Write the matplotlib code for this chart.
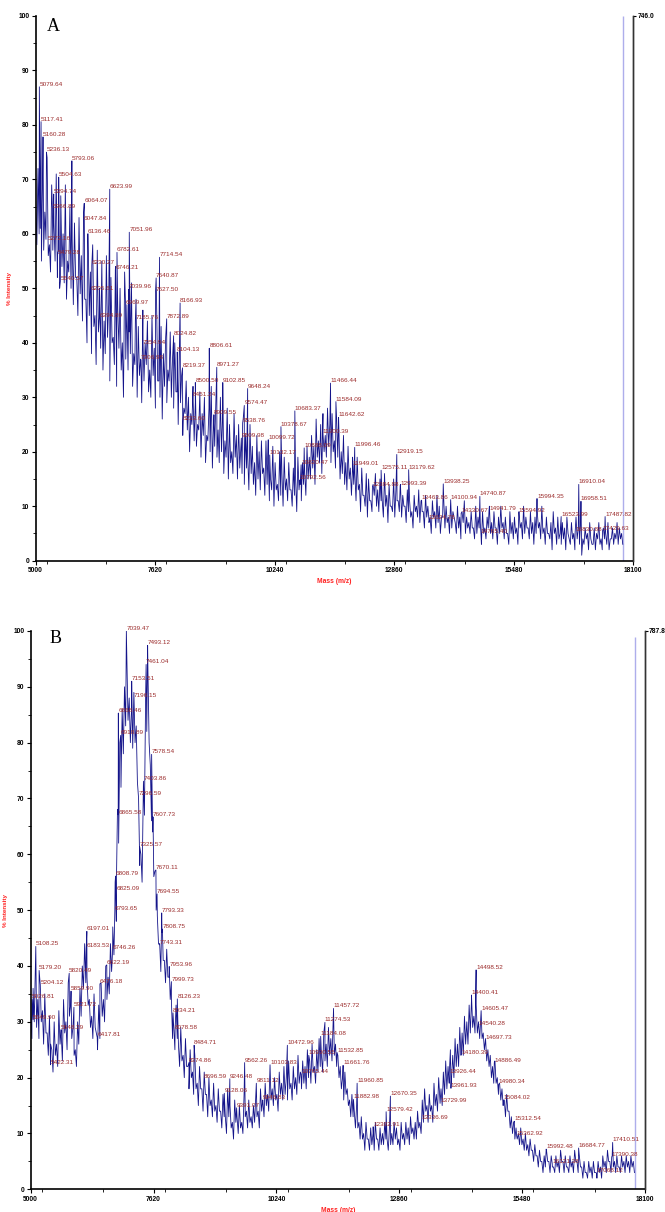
import matplotlib
matplotlib.use('Agg')

import matplotlib.pyplot as plt
from matplotlib.ticker import MultipleLocator
import numpy as np

plt.rcParams['font.family'] = ['Liberation Sans', 'DejaVu Sans']

# spectra read every 50 Da from 5000 (tops), troughs read in between (+25 Da)
START = 5000
STEP = 50

a_trace = [
    66, 72, 61, 70, 64, 74, 58, 69, 62, 71,
    57, 67, 60, 69, 55, 65, 59, 62, 52, 63,
    56, 64, 48, 60, 53, 58, 45, 57, 50, 55,
    44, 56, 47, 52, 41, 54, 46, 50, 40, 53,
    47, 42, 51, 38, 48, 43, 37, 46, 40, 44,
    35, 45, 39, 48, 33, 43, 38, 41, 35, 42,
    37, 40, 31, 38, 34, 28, 33, 30, 27, 32,
    29, 25, 31, 27, 30, 23, 28, 32, 25, 29,
    24, 30, 27, 22, 28, 25, 20, 27, 23, 25,
    21, 26, 23, 19, 25, 21, 18, 23, 20, 22,
    17, 22, 19, 15, 21, 18, 14, 20, 16, 19,
    15, 18, 13, 17, 15, 19, 14, 18, 16, 21,
    19, 23, 21, 26, 22, 25, 27, 23, 28, 25,
    27, 22, 26, 24, 20, 23, 18, 21, 17, 19,
    16, 19, 14, 17, 12, 16, 15, 11, 14, 16,
    13, 15, 11, 16, 12, 14, 10, 15, 13, 11,
    14, 12, 10, 13, 11, 9, 12, 10, 13, 11,
    9, 12, 10, 8, 11, 9, 12, 10, 8, 11,
    10, 8, 11, 9, 7, 10, 8, 9, 11, 8,
    7, 9, 6, 10, 8, 7, 9, 6, 8, 10,
    7, 9, 6, 8, 10, 7, 8, 5, 9, 7,
    8, 6, 9, 7, 10, 8, 6, 9, 7, 8,
    9, 7, 10, 6, 8, 5, 7, 9, 6, 8,
    5, 7, 6, 8, 4, 7, 5, 8, 6, 7,
    4, 6, 5, 7, 3, 6, 5, 7, 4, 6,
    5, 7, 4, 6, 5, 7, 6, 5,
]
a_lows = [
    58, 60, 55, 57, 59, 56, 53, 57, 55, 52,
    50, 54, 51, 48, 53, 50, 47, 52, 45, 49,
    44, 48, 40, 45, 38, 43, 36, 42, 39, 35,
    38, 41, 33, 40, 36, 32, 39, 35, 30, 37,
    35, 38, 32, 36, 30, 34, 29, 33, 36, 31,
    30, 34, 28, 33, 30, 26, 32, 29, 33, 30,
    28, 31, 25, 29, 23, 27, 24, 20, 25, 22,
    21, 24, 19, 23, 18, 22, 20, 17, 21, 19,
    18, 20, 16, 19, 15, 18, 16, 19, 15, 17,
    16, 14, 17, 13, 16, 14, 12, 15, 13, 16,
    12, 14, 11, 13, 10, 13, 11, 12, 10, 13,
    11, 13, 10, 12, 9, 13, 11, 14, 12, 15,
    15, 17, 14, 19, 18, 16, 20, 19, 21, 18,
    20, 17, 19, 15, 16, 14, 13, 15, 12, 14,
    11, 13, 9, 12, 10, 8, 11, 9, 12, 10,
    9, 11, 8, 10, 7, 10, 9, 8, 11, 9,
    8, 10, 7, 9, 8, 6, 9, 8, 7, 9,
    6, 8, 7, 5, 8, 6, 7, 5, 8, 6,
    7, 5, 6, 8, 5, 6, 4, 7, 5, 6,
    5, 6, 4, 5, 6, 3, 5, 4, 6, 5,
    4, 6, 3, 5, 6, 4, 5, 3, 5, 4,
    5, 3, 6, 4, 5, 6, 4, 5, 3, 5,
    6, 4, 5, 3, 5, 4, 2, 5, 3, 4,
    3, 4, 2, 5, 3, 4, 2, 4, 3, 1,
    3, 4, 2, 4, 3, 2, 4, 3, 2, 4,
    3, 2, 4, 3, 4, 3, 4, 3,
]

a_peak_mass = [
    5079.64, 5117.41, 5160.28, 5236.13, 5793.06, 5504.63, 5394.74, 6623.99,
    6064.07, 5366.89, 6047.84, 7051.96, 6136.46, 5272.16, 6782.61, 5479.28,
    7714.54, 6230.27, 6746.21, 7640.87, 5540.57, 7039.96, 7627.50, 6205.61,
    8166.93, 6969.97, 6394.89, 7185.76, 7872.89, 8024.82, 7354.94, 8104.13,
    8806.61, 7306.98, 8219.37, 8971.27, 8500.50, 9102.85, 9648.24, 8451.24,
    9574.47, 10683.37, 8909.55, 8233.60, 9538.76, 10378.67, 9509.98, 10099.72,
    10888.09, 10132.17, 10820.47, 10792.56, 11466.44, 11584.09, 11642.62,
    11300.39, 11996.46, 12919.15, 11949.01, 12575.11, 13179.62, 12384.88,
    12993.39, 13938.25, 13463.86, 14100.94, 14740.87, 15994.35, 16910.04,
    16958.51, 14330.67, 14941.79, 15594.92, 16523.99, 17487.82, 13624.78,
    14765.40, 16830.88, 17429.63,
]
a_peak_int = [
    87.0, 80.6, 77.8, 75.0, 73.4, 70.4, 67.3, 68.2,
    65.6, 64.6, 62.4, 60.3, 60.0, 58.7, 56.6, 56.2,
    55.7, 54.2, 53.4, 51.9, 51.3, 49.8, 49.3, 49.5,
    47.3, 47.0, 44.6, 44.2, 44.4, 41.3, 39.6, 38.3,
    39.0, 36.8, 35.4, 35.5, 32.7, 32.7, 31.6, 30.0,
    28.5, 27.5, 26.8, 25.6, 25.3, 24.6, 22.5, 22.2,
    20.7, 19.4, 17.6, 14.8, 32.6, 29.2, 26.3,
    23.3, 20.8, 19.5, 17.3, 16.6, 16.7, 13.6,
    13.8, 14.1, 11.1, 11.2, 11.8, 11.4, 14.0,
    10.9, 8.7, 9.2, 8.8, 8.1, 8.1, 7.5,
    4.9, 5.2, 5.4,
]
a_spike_mass = [17880]
a_spike_int = [100]
a_abs_max = '746.0'

b_trace = [
    31, 36, 40, 34, 37, 32, 35, 28, 31, 25,
    30, 26, 32, 28, 34, 30, 37, 33, 29, 25,
    30, 36, 40, 44, 38, 34, 31, 35, 28, 33,
    37, 34, 40, 38, 44, 47, 55, 68, 80, 86,
    90, 95, 88, 86, 89, 83, 70, 60, 72, 88,
    93, 76, 64, 57, 49, 44, 46, 41, 43, 38,
    34, 29, 33, 26, 29, 24, 27, 22, 25, 21,
    24, 19, 22, 18, 21, 17, 20, 16, 19, 15,
    18, 14, 17, 13, 18, 15, 12, 16, 13, 15,
    12, 17, 14, 16, 13, 15, 17, 14, 18, 16,
    19, 17, 21, 18, 20, 17, 21, 19, 22, 20,
    23, 19, 22, 20, 24, 21, 23, 22, 25, 23,
    26, 22, 25, 27, 24, 28, 26, 29, 27, 30,
    26, 24, 22, 20, 21, 18, 16, 17, 14, 15,
    12, 13, 10, 12, 9, 11, 10, 12, 9, 11,
    10, 12, 9, 11, 10, 12, 11, 9, 12, 10,
    12, 11, 13, 11, 12, 14, 12, 16, 18, 15,
    17, 15, 19, 17, 20, 18, 21, 23, 22, 25,
    24, 27, 26, 29, 28, 31, 30, 33, 34, 31,
    33, 30, 31, 28, 27, 25, 24, 22, 23, 20,
    19, 18, 16, 17, 14, 13, 12, 11, 10, 11,
    9, 10, 8, 9, 7, 8, 6, 7, 5, 6,
    7, 5, 6, 4, 6, 5, 7, 5, 6, 4,
    6, 5, 7, 5, 6, 4, 5, 3, 5, 4,
    5, 3, 5, 4, 6, 5, 7, 5, 6, 5,
    6, 4, 6, 5, 6, 5, 6, 5,
]
b_lows = [
    27, 30, 29, 27, 30, 26, 28, 24, 26, 21,
    24, 22, 26, 23, 28, 25, 31, 27, 24, 22,
    26, 31, 36, 37, 33, 29, 27, 29, 25, 27,
    31, 30, 34, 35, 39, 42, 48, 62, 72, 78,
    83, 84, 80, 79, 80, 73, 58, 55, 67, 82,
    80, 66, 56, 50, 44, 39, 41, 37, 38, 34,
    27, 25, 27, 22, 23, 20, 22, 18, 20, 17,
    18, 15, 18, 14, 17, 13, 15, 13, 14, 12,
    14, 11, 13, 10, 13, 11, 9, 12, 10, 11,
    10, 13, 11, 12, 11, 12, 13, 11, 14, 13,
    15, 14, 16, 15, 16, 14, 17, 16, 17, 16,
    18, 16, 18, 17, 19, 18, 19, 18, 20, 19,
    21, 19, 21, 22, 21, 23, 22, 24, 23, 24,
    22, 20, 18, 16, 17, 15, 13, 13, 11, 11,
    9, 9, 7, 9, 7, 8, 7, 9, 7, 8,
    8, 9, 7, 8, 8, 9, 8, 7, 9, 8,
    9, 8, 10, 9, 9, 11, 10, 12, 14, 12,
    14, 12, 15, 14, 16, 15, 17, 18, 19, 20,
    20, 22, 22, 24, 24, 26, 26, 28, 29, 28,
    28, 27, 27, 25, 23, 22, 20, 19, 19, 17,
    16, 15, 13, 14, 11, 10, 9, 9, 8, 8,
    7, 7, 6, 7, 5, 6, 4, 5, 3, 4,
    5, 3, 4, 3, 4, 3, 5, 3, 4, 3,
    4, 3, 5, 3, 4, 2, 3, 2, 3, 2,
    3, 2, 3, 2, 4, 3, 5, 3, 4, 3,
    4, 3, 4, 3, 4, 3, 4, 3,
]

b_peak_mass = [
    7039.47, 7493.12, 7461.04, 7153.51, 7196.15, 6868.46, 6918.89, 7578.54,
    7403.86, 7296.59, 6865.58, 7607.73, 7325.57, 6808.79, 7670.11, 6825.09,
    7694.55, 6793.65, 7793.33, 7808.75, 6197.01, 7743.31, 5108.25, 6183.53,
    6746.26, 6622.19, 7953.96, 5179.20, 5820.49, 7999.73, 5204.12, 6476.18,
    5859.90, 8126.23, 5026.81, 5921.72, 8034.21, 5049.90, 5648.29, 8078.58,
    6417.81, 8484.71, 10472.96, 5422.31, 8374.86, 9562.26, 10103.83,
    10930.55, 11457.72, 11274.53, 11184.08, 10765.44, 8696.59, 9246.48,
    9811.12, 9128.06, 9946.83, 9391.07, 14498.52, 14400.41, 14605.47,
    14540.28, 14697.73, 11532.85, 14180.39, 14886.49, 11661.76, 13926.44,
    11960.85, 14980.34, 13961.93, 11882.98, 12670.35, 15084.02, 13729.99,
    12579.42, 13336.69, 15312.54, 12302.91, 15362.92, 15992.48, 16684.77,
    17410.51, 16121.38, 17390.38, 17068.12,
]
b_peak_int = [
    100.0, 97.4, 94.0, 91.0, 88.0, 85.3, 81.3, 77.9,
    73.1, 70.5, 67.1, 66.7, 61.3, 56.1, 57.2, 53.4,
    52.9, 49.8, 49.5, 46.6, 46.2, 43.8, 43.5, 43.2,
    42.8, 40.2, 39.9, 39.2, 38.7, 37.2, 36.6, 36.8,
    35.5, 34.1, 34.0, 32.6, 31.6, 30.4, 28.6, 28.5,
    27.2, 25.8, 25.8, 22.3, 22.7, 22.7, 22.3,
    24.0, 32.4, 29.9, 27.4, 20.6, 19.8, 19.8,
    19.0, 17.2, 16.0, 14.6, 39.3, 34.8, 32.0,
    29.3, 26.7, 24.5, 24.1, 22.7, 22.2, 20.7,
    19.0, 18.8, 18.1, 16.1, 16.7, 16.0, 15.4,
    13.9, 12.4, 12.2, 11.2, 9.6, 7.2, 7.4,
    8.4, 4.6, 5.8, 2.9,
]
b_spike_mass = [17880]
b_spike_int = [99]
b_abs_max = '787.8'

x_ticks = [5000, 7620, 10240, 12860, 15480, 18100]

TRACE = '#14148a'
LABEL = '#9b2b2b'
RED = '#ff2020'


def draw(ax, trace, lows, pmass, pint, smass, sint, absmax, letter, letter_xy,
         ylab_x, xlab_y):
    top_m = START + STEP * np.arange(len(trace))
    low_m = START + STEP / 2 + STEP * np.arange(len(lows))
    m = np.concatenate([top_m, low_m, pmass])
    v = np.concatenate([trace, lows, pint])
    order = np.argsort(m, kind='stable')
    ax.vlines(smass, 0, sint, color='#a0a0e8', lw=1.0, alpha=0.85, zorder=1)
    ax.plot(m[order], v[order], color=TRACE, lw=0.6, zorder=2)
    for pm, pi in zip(pmass, pint):
        ax.text(pm, pi, '%.2f' % pm, fontsize=4.6, color=LABEL,
                ha='left', va='bottom', zorder=3)

    ax.set_xlim(5000, 18100)
    ax.set_ylim(0, 100)
    ax.set_xticks(x_ticks)
    ax.xaxis.set_minor_locator(MultipleLocator(1310))
    ax.yaxis.set_major_locator(MultipleLocator(10))
    ax.yaxis.set_minor_locator(MultipleLocator(5))
    ax.tick_params(which='major', length=3, width=0.8, labelsize=4.8, pad=1.5)
    ax.tick_params(which='minor', length=2, width=0.6)
    for lab in ax.get_xticklabels() + ax.get_yticklabels():
        lab.set_fontweight('bold')
    ax.spines['top'].set_visible(False)
    for s in ['left', 'bottom']:
        ax.spines[s].set_linewidth(1.2)
    ax.spines['right'].set_linewidth(1.0)
    ax.spines['right'].set_color('#333333')

    ax2 = ax.twinx()
    ax2.set_ylim(0, 100)
    ax2.set_yticks([100])
    ax2.set_yticklabels([absmax])
    ax2.tick_params(length=2, width=0.8, labelsize=4.8, pad=1)
    ax2.get_yticklabels()[0].set_fontweight('bold')
    for s in ['top', 'left', 'bottom']:
        ax2.spines[s].set_visible(False)
    ax2.spines['right'].set_linewidth(1.0)
    ax2.spines['right'].set_color('#333333')

    ax.set_ylabel('% Intensity', fontsize=4.5, color=RED, fontweight='bold')
    ax.yaxis.set_label_coords(ylab_x, 0.5)
    ax.set_xlabel('Mass (m/z)', fontsize=4.8, color=RED, fontweight='bold')
    ax.xaxis.set_label_coords(0.5, xlab_y)
    ax.text(letter_xy[0], letter_xy[1], letter, transform=ax.transAxes,
            fontsize=13, family='Liberation Serif', ha='center', va='center')


DPI = 100
fig = plt.figure(figsize=(665 / DPI, 1212 / DPI), dpi=DPI)
axA = fig.add_axes([0.0537, 0.5374, 0.8982, 0.4494])
axB = fig.add_axes([0.0462, 0.0187, 0.9237, 0.4607])

draw(axA, a_trace, a_lows, a_peak_mass, a_peak_int, a_spike_mass, a_spike_int,
     a_abs_max, 'A', (0.030, 0.980), -0.040, -0.031)
draw(axB, b_trace, b_lows, b_peak_mass, b_peak_int, b_spike_mass, b_spike_int,
     b_abs_max, 'B', (0.041, 0.986), -0.037, -0.032)

fig.savefig('out.png', dpi=DPI)
